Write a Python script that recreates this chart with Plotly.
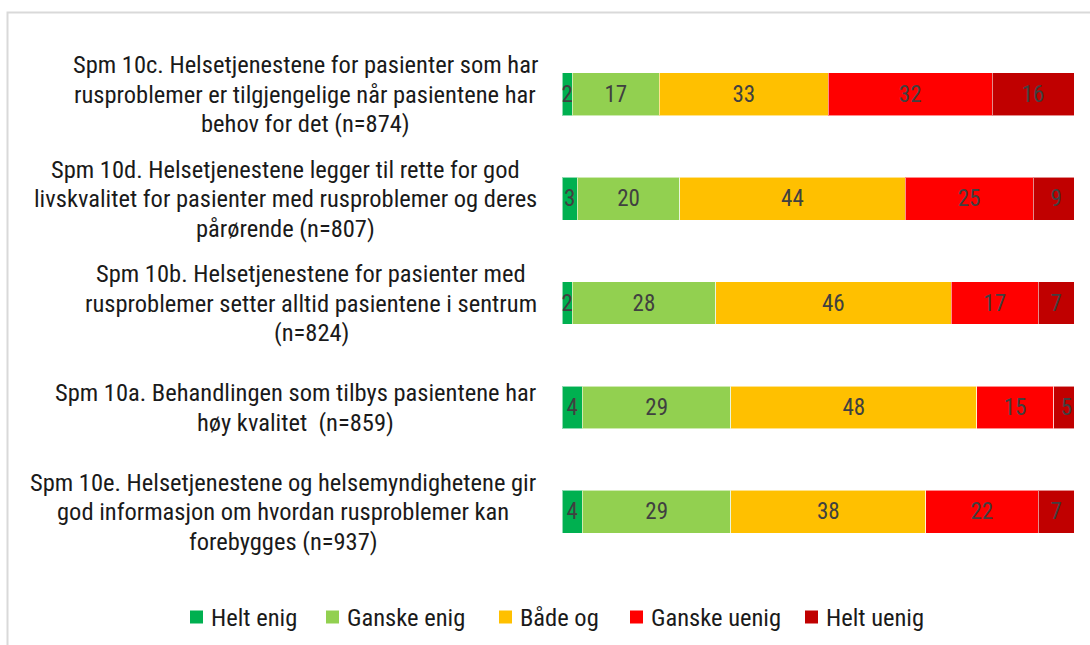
import plotly.graph_objects as go

question_lines = [
    ["Spm 10c. Helsetjenestene for pasienter som har",
     "rusproblemer er tilgjengelige når pasientene har",
     "behov for det (n=874)"],
    ["Spm 10d. Helsetjenestene legger til rette for god",
     "livskvalitet for pasienter med rusproblemer og deres",
     "pårørende (n=807)"],
    ["Spm 10b. Helsetjenestene for pasienter med",
     "rusproblemer setter alltid pasientene i sentrum",
     "(n=824)"],
    ["Spm 10a. Behandlingen som tilbys pasientene har",
     "høy kvalitet  (n=859)"],
    ["Spm 10e. Helsetjenestene og helsemyndighetene gir",
     "god informasjon om hvordan rusproblemer kan",
     "forebygges (n=937)"],
]
keys = ["10c", "10d", "10b", "10a", "10e"]

series_names = ["Helt enig", "Ganske enig", "Både og", "Ganske uenig", "Helt uenig"]
helt_enig = [2, 3, 2, 4, 4]
ganske_enig = [17, 20, 28, 29, 29]
bade_og = [33, 44, 46, 48, 38]
ganske_uenig = [32, 25, 17, 15, 22]
helt_uenig = [16, 9, 7, 5, 7]
series_values = [helt_enig, ganske_enig, bade_og, ganske_uenig, helt_uenig]
colors = ["#00B050", "#92D050", "#FFC000", "#FF0000", "#C00000"]

FONT = "Liberation Sans Narrow, Arial Narrow, Roboto Condensed, sans-serif"

fig = go.Figure()
for name, vals, col in zip(series_names, series_values, colors):
    fig.add_trace(go.Bar(
        y=keys, x=vals, name=name, orientation="h",
        marker=dict(color=col, line=dict(color="rgba(255,255,255,0.55)", width=1)),
        text=[str(v) for v in vals], textposition="inside", insidetextanchor="middle",
        textfont=dict(family=FONT, size=23, color="#404040"),
        constraintext="none", showlegend=False, hoverinfo="skip",
    ))

W, H = 1090, 645
L, R, T, B = 562, 16, 42, 81
pw, ph = W - L - R, H - T - B

def px_x(px):
    return (px - L) / pw

def px_y(py):
    return (T + ph - py) / ph

# label block centres (pixels) - text lines are centred within each block
block_centres = [305, 285.5, 311, 295, 283]
LINE_H = 29.5

annotations = []
for k, lines, cx in zip(keys, question_lines, block_centres):
    n = len(lines)
    for i, line in enumerate(lines):
        annotations.append(dict(
            x=px_x(cx), xref="paper", y=k, yref="y",
            xanchor="center", yanchor="middle", align="center",
            yshift=-(i - (n - 1) / 2) * LINE_H,
            text=line, showarrow=False,
            font=dict(family=FONT, size=24.5, color="#1a1a1a"),
        ))

shapes = [dict(
    type="rect", xref="paper", yref="paper",
    x0=px_x(7.5), x1=px_x(1100), y0=px_y(700), y1=px_y(12.5),
    line=dict(color="#d9d9d9", width=2), fillcolor="rgba(0,0,0,0)", layer="below",
)]

# custom legend (square + label), positions in pixels
legend_sq_left = [190, 326, 499, 630, 805]
legend_y = 617
for name, col, sx in zip(series_names, colors, legend_sq_left):
    shapes.append(dict(
        type="rect", xref="paper", yref="paper",
        x0=px_x(sx), x1=px_x(sx + 13), y0=px_y(legend_y + 6.5), y1=px_y(legend_y - 6.5),
        line=dict(width=0), fillcolor=col,
    ))
    annotations.append(dict(
        x=px_x(sx + 19), xref="paper", y=px_y(legend_y), yref="paper",
        xanchor="left", yanchor="middle", text=name, showarrow=False,
        font=dict(family=FONT, size=24.5, color="#1a1a1a"),
    ))

fig.update_layout(
    width=W, height=H,
    margin=dict(l=L, r=R, t=T, b=B),
    barmode="stack", bargap=0.59,
    paper_bgcolor="white", plot_bgcolor="white",
    xaxis=dict(range=[0, 100], visible=False, fixedrange=True),
    yaxis=dict(categoryorder="array", categoryarray=keys, autorange="reversed",
               showticklabels=False, showgrid=False, zeroline=False, ticks="",
               fixedrange=True),
    showlegend=False,
    annotations=annotations, shapes=shapes,
)

fig.write_html("out.html", config={"displayModeBar": False},
               post_script="document.body.style.margin='0';")
